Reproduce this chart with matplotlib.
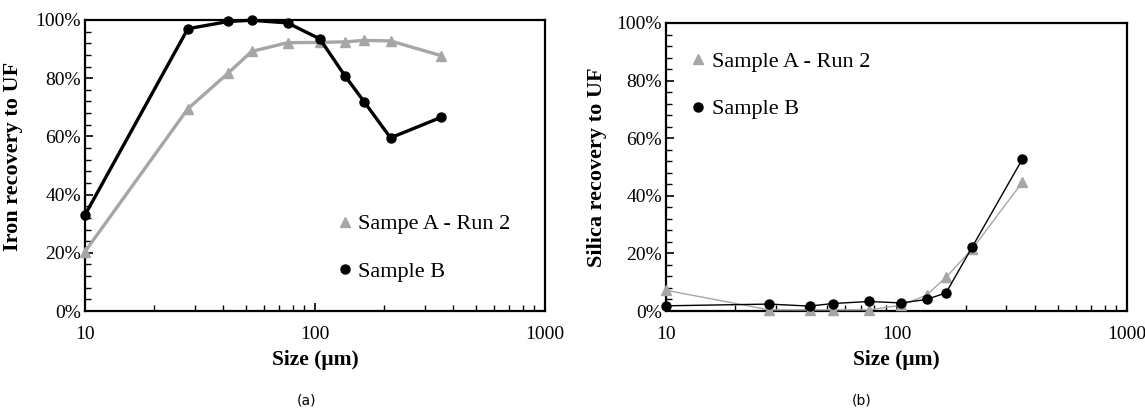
import matplotlib.pyplot as plt
from matplotlib.ticker import PercentFormatter, MultipleLocator, LogLocator, FixedLocator, NullFormatter
import numpy as np

plt.rcParams['font.family'] = ['Liberation Serif', 'DejaVu Serif']

# particle size (um)
size = [10, 28, 42, 53, 76, 105, 135, 164, 213, 352]

# iron recovery to UF (%)
iron_a = [20.4, 69.5, 81.8, 89.2, 92.2, 92.3, 92.5, 93.0, 92.8, 87.8]
iron_b = [33.0, 97.0, 99.5, 99.9, 99.0, 93.5, 80.8, 71.8, 59.5, 66.5]

# silica recovery to UF (%)
silica_a = [7.2, 0.4, 0.4, 0.4, 0.4, 2.0, 5.5, 11.7, 21.5, 44.8]
silica_b = [1.8, 2.4, 1.7, 2.6, 3.3, 2.8, 4.0, 6.3, 22.2, 52.8]

grey = '#a6a6a6'

fig = plt.figure(figsize=(11.45, 4.08), dpi=100)
ax1 = fig.add_axes([85 / 1145, 1 - 311 / 408, 460 / 1145, 291 / 408])
ax2 = fig.add_axes([666 / 1145, 1 - 311 / 408, 461 / 1145, 288 / 408])


def style(ax, ylabel, label_x, label_y):
    ax.set_xscale('log')
    ax.set_xlim(10, 1000)
    ax.set_ylim(0, 100)
    ax.yaxis.set_major_locator(MultipleLocator(20))
    ax.yaxis.set_minor_locator(MultipleLocator(4))
    ax.yaxis.set_major_formatter(PercentFormatter(decimals=0))
    ax.xaxis.set_major_locator(FixedLocator([10, 100, 1000]))
    ax.xaxis.set_major_formatter(plt.FuncFormatter(lambda v, p: '%d' % v))
    ax.xaxis.set_minor_locator(LogLocator(base=10, subs=np.arange(2, 10)))
    ax.xaxis.set_minor_formatter(NullFormatter())
    ax.tick_params(which='both', direction='in', top=False, right=False, labelsize=14)
    ax.tick_params(which='major', length=6, width=1.2)
    ax.tick_params(which='minor', length=4, width=1.0)
    ax.tick_params(axis='x', pad=11)
    ax.tick_params(axis='y', pad=3)
    for s in ax.spines.values():
        s.set_linewidth(1.6)
        s.set_color('black')
    ax.set_xlabel('Size (μm)', fontsize=15.5, fontweight='bold', labelpad=5)
    ax.set_ylabel(ylabel, fontsize=16, fontweight='bold')
    ax.yaxis.set_label_coords(label_x, label_y)


def marker_legend(ax, **kw):
    leg = ax.legend(frameon=False, fontsize=16, handlelength=0.4, handletextpad=0.4,
                    labelspacing=1.2, **kw)
    for h in leg.legend_handles:
        h.set_linestyle('none')
    return leg


ax1.plot(size, iron_a, color=grey, lw=2.4, marker='^', ms=6.5, label='Sampe A - Run 2', clip_on=False, zorder=3)
ax1.plot(size, iron_b, color='black', lw=2.4, marker='o', ms=6.5, label='Sample B', clip_on=False, zorder=4)
style(ax1, 'Iron recovery to UF', -0.135, 0.53)
marker_legend(ax1, loc='lower left', bbox_to_anchor=(0.512, 0.032))

ax2.plot(size, silica_a, color=grey, lw=1.0, marker='^', ms=6.5, label='Sample A - Run 2', clip_on=False, zorder=3)
ax2.plot(size, silica_b, color='black', lw=1.0, marker='o', ms=6.5, label='Sample B', clip_on=False, zorder=4)
style(ax2, 'Silica recovery to UF', -0.129, 0.5)
marker_legend(ax2, loc='upper left', bbox_to_anchor=(0.017, 0.97))

fig.text(306 / 1145, 1 - 400 / 408, '(a)', fontsize=10, family='DejaVu Sans', ha='center', va='center')
fig.text(862 / 1145, 1 - 400 / 408, '(b)', fontsize=10, family='DejaVu Sans', ha='center', va='center')

fig.savefig('out.png', dpi=100)
